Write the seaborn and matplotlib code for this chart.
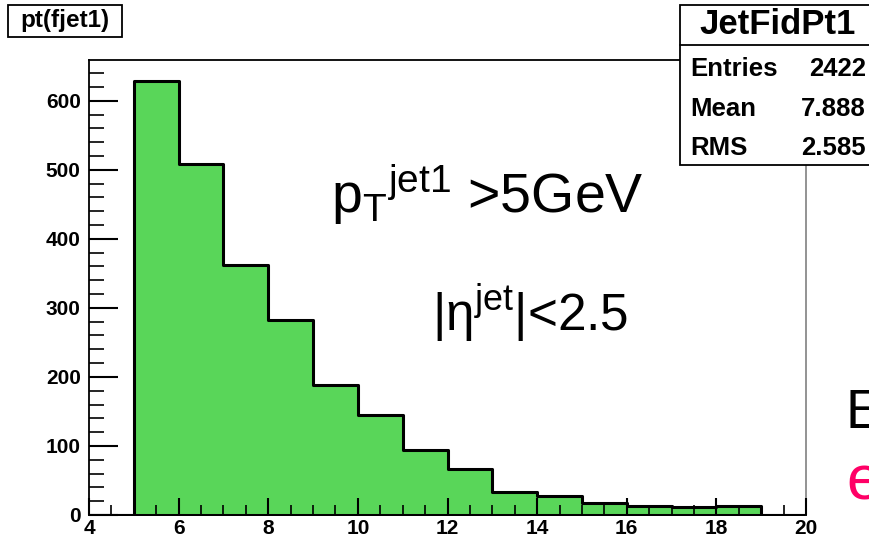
import numpy as np
import pandas as pd
import matplotlib
matplotlib.use("Agg")
import matplotlib.pyplot as plt
import seaborn as sns
from matplotlib.patches import Rectangle

# ---- data ----
bin_edges = [4, 5, 6, 7, 8, 9, 10, 11, 12, 13, 14, 15, 16, 17, 18, 19, 20]
counts = [0, 629, 509, 362, 283, 188, 145, 94, 66, 33, 27, 18, 13, 11, 13, 0]
x_ticks = [4, 6, 8, 10, 12, 14, 16, 18, 20]
y_ticks = [0, 100, 200, 300, 400, 500, 600]
hist_title = "pt(fjet1)"
stats_name = "JetFidPt1"
stats_labels = ["Entries", "Mean", "RMS"]
stats_values = ["2422", "7.888", "2.585"]

sns.set_style("white")
plt.rcParams['font.family'] = ['Liberation Sans', 'DejaVu Sans']
plt.rcParams['text.color'] = 'black'
plt.rcParams['xtick.color'] = 'black'
plt.rcParams['ytick.color'] = 'black'
plt.rcParams['axes.labelcolor'] = 'black'
plt.rcParams['mathtext.fontset'] = 'custom'
plt.rcParams['mathtext.rm'] = 'Liberation Sans'
plt.rcParams['mathtext.it'] = 'Liberation Sans'
plt.rcParams['mathtext.bf'] = 'Liberation Sans:bold'

W, H = 869, 540
fig = plt.figure(figsize=(W / 100, H / 100), dpi=100)
ax = fig.add_axes([89 / W, 1 - 515 / H, (806 - 89) / W, (515 - 60) / H])

centers = [(a + b) / 2 for a, b in zip(bin_edges[:-1], bin_edges[1:])]
df = pd.DataFrame({"pt": centers, "w": counts})
sns.histplot(data=df, x="pt", weights="w", bins=bin_edges, element="step",
             fill=True, color="#59d659", alpha=1.0, edgecolor="black",
             linewidth=2.2, ax=ax)

ax.set_xlim(4, 20)
ax.set_ylim(0, 659)
ax.set_xlabel("")
ax.set_ylabel("")
ax.set_axisbelow(False)

ax.set_xticks(x_ticks)
ax.set_xticklabels([str(v) for v in x_ticks])
ax.set_xticks(np.arange(4, 20.01, 0.5), minor=True)
ax.set_yticks(y_ticks)
ax.set_yticklabels([str(v) for v in y_ticks])
ax.set_yticks(np.arange(0, 659, 20), minor=True)

ax.tick_params(axis="x", which="major", direction="in", length=12, width=1.5,
               labelsize=15, pad=3, bottom=True, top=False)
ax.tick_params(axis="x", which="minor", direction="in", length=7, width=1.2,
               bottom=True, top=False)
ax.tick_params(axis="y", which="major", direction="in", length=21, width=1.5,
               labelsize=15, pad=6, left=True, right=False)
ax.tick_params(axis="y", which="minor", direction="in", length=11, width=1.2,
               left=True, right=False)
for lab in ax.get_xticklabels() + ax.get_yticklabels():
    lab.set_fontweight("bold")

for s in ["left", "bottom", "top"]:
    ax.spines[s].set_color("black")
    ax.spines[s].set_linewidth(1.3)
ax.spines["right"].set_color("#808080")
ax.spines["right"].set_linewidth(1.2)

# annotations inside plot
fig.text(331 / W, 1 - 213 / H, r"$\mathregular{p_{T}{}^{jet1}}$ >5GeV",
         fontsize=40, ha="left", va="baseline")
fig.text(432 / W, 1 - 331 / H, r"$\mathregular{|\eta^{jet}|}$<2.5",
         fontsize=37, ha="left", va="baseline")

# title box
tbox = Rectangle((8 / W, 1 - 37 / H), (122 - 8) / W, (37 - 5) / H,
                 transform=fig.transFigure, facecolor="white",
                 edgecolor="black", linewidth=1.3, zorder=5)
fig.add_artist(tbox)
fig.text(65 / W, 1 - 21 / H, hist_title, fontsize=17.5, fontweight="bold",
         ha="center", va="center", zorder=6)

# stats box
box = Rectangle((680 / W, 1 - 165 / H), (W + 20 - 680) / W, (165 - 5) / H,
                transform=fig.transFigure, facecolor="white",
                edgecolor="black", linewidth=1.3, zorder=5)
fig.add_artist(box)
fig.add_artist(plt.Line2D([680 / W, 1.0], [1 - 45 / H, 1 - 45 / H],
                          transform=fig.transFigure, color="black",
                          linewidth=1.3, zorder=6))
fig.text(778 / W, 1 - 25 / H, stats_name, fontsize=25, fontweight="bold",
         ha="center", va="center", zorder=7)
row_y = [76, 116, 155]
for lab, val, yy in zip(stats_labels, stats_values, row_y):
    fig.text(690 / W, 1 - yy / H, lab, fontsize=18.5, fontweight="bold",
             ha="left", va="baseline", zorder=7)
    fig.text(866 / W, 1 - yy / H, val, fontsize=18.5, fontweight="bold",
             ha="right", va="baseline", zorder=7)

# cut-off slide text at right edge (partially outside the figure, as in the reference)
fig.text(846 / W, 1 - 428 / H, "E", fontsize=40, color="black",
         ha="left", va="baseline")
fig.text(846 / W, 1 - 500 / H, "e", fontsize=45, color="#ff0066",
         ha="left", va="baseline")

fig.savefig("out.png", dpi=100)
